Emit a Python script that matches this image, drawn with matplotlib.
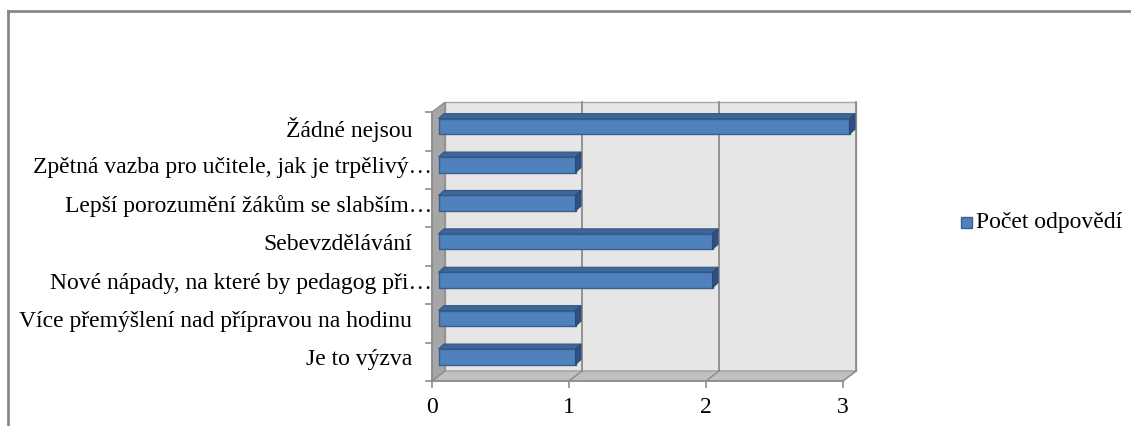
import matplotlib
matplotlib.use("Agg")
import matplotlib.pyplot as plt

# answers and counts, bottom to top as they appear on the chart
categories = [
    "Je to výzva",
    "Více přemýšlení nad přípravou na hodinu",
    "Nové nápady, na které by pedagog při…",
    "Sebevzdělávání",
    "Lepší porozumění žákům se slabším…",
    "Zpětná vazba pro učitele, jak je trpělivý…",
    "Žádné nejsou",
]
counts = [1, 1, 2, 2, 1, 1, 3]
x_ticks = [0, 1, 2, 3]
series_name = "Počet odpovědí"

plt.rcParams["font.family"] = ["Liberation Serif", "DejaVu Serif"]
FS = 17

W, H = 1131, 427
fig = plt.figure(figsize=(W / 100, H / 100), dpi=100)
ax = fig.add_axes([0, 0, 1, 1])

# pixel scale of the mid-depth plane
PX_X = 137.0          # pixels per count
PX_Y = 38.4           # pixels per category
X0 = 438.5            # pixel x of value 0
Y0 = 69.2             # pixel y (from bottom) of category 0
ax.set_xlim(-X0 / PX_X, (W - X0) / PX_X)
ax.set_ylim(-Y0 / PX_Y, (H - Y0) / PX_Y)
ax.axis("off")

def px(dx, dy):
    return dx / PX_X, dy / PX_Y

# depth of the plot box (front -> back) and of the bars
hx, hy = px(6.5, 5.0)
bx, by = px(5.5, 5.0)

xmax = x_ticks[-1]
ylo, yhi = -0.5, len(categories) - 0.5

# back wall
ax.fill([0 + hx, xmax + hx, xmax + hx, 0 + hx], [ylo + hy, ylo + hy, yhi + hy, yhi + hy],
        color="#e6e6e6", ec="#a6a6a6", lw=1, zorder=1)
# floor
ax.fill([-hx, xmax - hx, xmax + hx, hx], [ylo - hy, ylo - hy, ylo + hy, ylo + hy],
        color="#c0c0c0", ec="#a0a0a0", lw=1, zorder=1)
# left wall
ax.fill([-hx, hx, hx, -hx], [ylo - hy, ylo + hy, yhi + hy, yhi - hy],
        color="#a6a6a6", ec="#8c8c8c", lw=1, zorder=1)

# gridlines on the back wall and across the floor
for t in x_ticks[1:]:
    ax.plot([t + hx, t + hx], [ylo + hy, yhi + hy], color="#8c8c8c", lw=1.3, zorder=2)
    ax.plot([t - hx, t + hx], [ylo - hy, ylo + hy], color="#8c8c8c", lw=1.0, zorder=2)

# 3d bars: front face from barh, top and end faces as polygons
bar_h = 15.5 / PX_Y
ypos = list(range(len(categories)))
ax.barh(ypos, counts, height=bar_h, left=0, color="#4f81bd", ec="#3a5f8f", lw=1, zorder=4)
for y, v in zip(ypos, counts):
    top = y + bar_h / 2
    bot = y - bar_h / 2
    ax.fill([0, v, v + bx, bx], [top, top, top + by, top + by],
            color="#3d6699", ec="#335780", lw=0.8, zorder=4)
    ax.fill([v, v + bx, v + bx, v], [bot, bot + by, top + by, top],
            color="#2e5182", ec="#2a4a75", lw=0.8, zorder=4)

# axes lines and ticks on the front plane
ax.plot([-hx, xmax - hx], [ylo - hy, ylo - hy], color="#8c8c8c", lw=1.2, zorder=3)
ax.plot([-hx, -hx], [ylo - hy, yhi - hy], color="#8c8c8c", lw=1.2, zorder=3)
tx, ty = px(6, 6)
for t in x_ticks:
    ax.plot([t - hx, t - hx], [ylo - hy, ylo - hy - ty], color="#8c8c8c", lw=1.2, zorder=3)
    ax.text(t - hx, ylo - hy - px(0, 26)[1], str(t), ha="center", va="center",
            fontsize=FS, zorder=5)
for k in range(len(categories) + 1):
    yb = k - 0.5 - hy
    ax.plot([-hx - tx, -hx], [yb, yb], color="#8c8c8c", lw=1.2, zorder=3)

# category labels; truncated ones run up to the axis
for y, lab in zip(ypos, categories):
    gap = 0 if lab.endswith("…") else 20
    ax.text(-hx - px(gap, 0)[0], y - px(0, 2)[1], lab, ha="right", va="center",
            fontsize=FS, zorder=5)

# legend
lx, ly = (961 - X0) / PX_X, (H - 223 - Y0) / PX_Y
sq_w, sq_h = px(11, 11)
ax.fill([lx, lx + sq_w, lx + sq_w, lx], [ly - sq_h / 2, ly - sq_h / 2, ly + sq_h / 2, ly + sq_h / 2],
        color="#4f81bd", ec="#3a5f8f", lw=1, zorder=5)
ax.text(lx + sq_w + px(4, 0)[0], ly, series_name, ha="left", va="center", fontsize=FS, zorder=5)

# chart frame
fig.add_artist(plt.Line2D([7.5 / W, 7.5 / W], [0, 1 - 11.5 / H], transform=fig.transFigure,
                          color="#888888", lw=2))
fig.add_artist(plt.Line2D([7.5 / W, 1], [1 - 11.5 / H, 1 - 11.5 / H], transform=fig.transFigure,
                          color="#888888", lw=2))

fig.savefig("out.png", dpi=100, facecolor="white")
